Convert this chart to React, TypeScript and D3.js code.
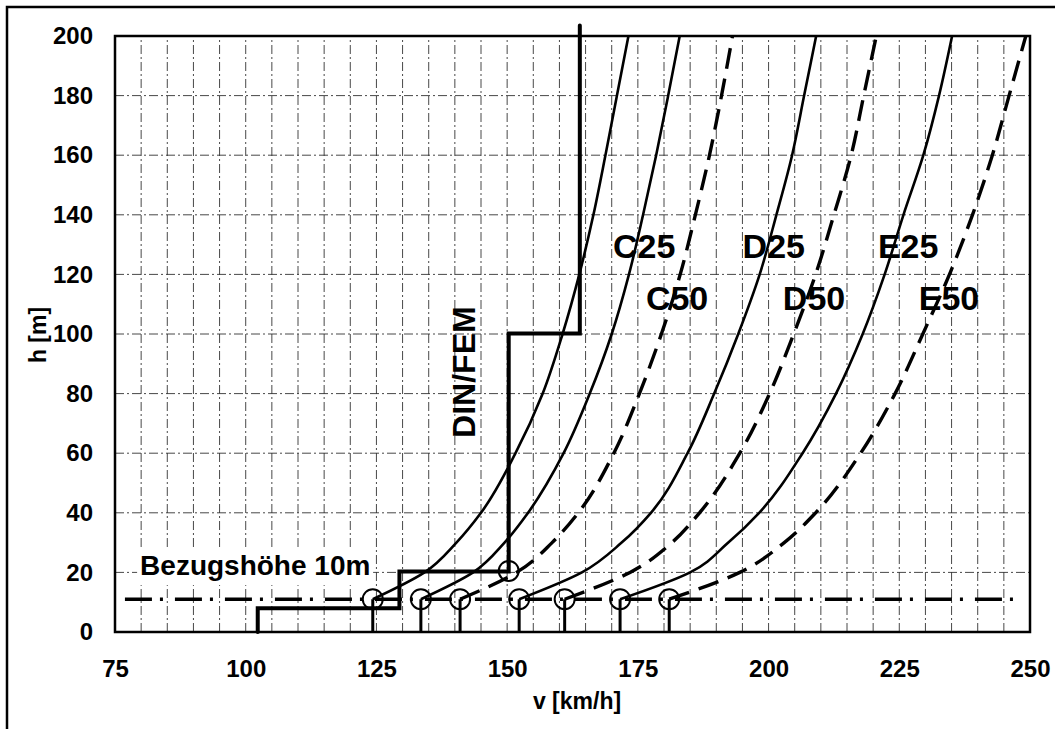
import React, { useEffect, useRef } from "react";
import * as d3 from "d3";

// heights [m] at which the wind speed profiles were read
const heights = [11, 20, 30, 40, 60, 80, 100, 120, 140, 160, 180, 200];

// v [km/h] of each profile at those heights
const profileRef = [124.3, 134.2, 140.3, 145, 151.6, 156.8, 160.6, 163.8, 166.5, 168.8, 171, 173.2];
const profileC25 = [133.5, 143.5, 149.5, 154, 160.8, 165.8, 170, 173.3, 176, 178.5, 180.8, 183];
const profileC50 = [141, 151.8, 158.6, 163.6, 170.4, 175.3, 179.5, 183.1, 186, 188.7, 191, 193.1];
const profileD25 = [152.3, 164.3, 171.9, 177.5, 184.5, 189.6, 194.2, 198.3, 201.5, 204.5, 206.8, 209.1];
const profileD50 = [161, 173.5, 181.5, 186.8, 194.5, 200.2, 204.8, 209, 212.5, 215.8, 218.2, 220.6];
const profileE25 = [171.6, 185, 192.3, 198.2, 206.5, 212.9, 218, 222.2, 225.8, 229.6, 232.6, 235.1];
const profileE50 = [181, 194.5, 203, 209, 217.6, 224.2, 229.5, 234.6, 239, 242.8, 246, 249.2];

const solidProfiles = [profileRef, profileC25, profileD25, profileE25];
const dashedProfiles = [profileC50, profileD50, profileE50];

// DIN/FEM step profile
const dinV = [102.3, 102.3, 129.4, 129.4, 150.3, 150.3, 163.9, 163.9];
const dinH = [0, 8, 8, 20.3, 20.3, 100.2, 100.2, 203.5];

// reference height marks
const refHeight = 11;
const refSpeeds = [124.3, 133.5, 141, 152.3, 161, 171.6, 181];
const dinMarkV = 150.3;
const dinMarkH = 20.5;
const refLineFrom = 76.9;
const refLineTo = 247.7;

// labels
const curveLabels = ["C25", "C50", "D25", "D50", "E25", "E50"];
const curveLabelV = [176.2, 182.5, 201, 208.7, 226.7, 234.5];
const curveLabelH = [125.5, 108, 125.5, 108, 125.5, 108];

const xTicks = [75, 100, 125, 150, 175, 200, 225, 250];
const yTicks = [0, 20, 40, 60, 80, 100, 120, 140, 160, 180, 200];

const FONT = "'Liberation Sans', Arial, sans-serif";

const App = () => {
  const svgRef = useRef(null);

  useEffect(() => {
    const svg = d3.select(svgRef.current);
    svg.selectAll("*").remove();

    const x = d3.scaleLinear().domain([75, 250]).range([115, 1030]);
    const y = d3.scaleLinear().domain([0, 200]).range([632, 36]);

    svg.append("rect").attr("width", 1055).attr("height", 729).attr("fill", "#fff");

    // outer frame (top and left only visible)
    svg
      .append("path")
      .attr("d", "M7,729 V7 H1055")
      .attr("fill", "none")
      .attr("stroke", "#000")
      .attr("stroke-width", 2.5);

    // grid
    const grid = svg.append("g").attr("stroke", "#333").attr("stroke-width", 0.9).attr("stroke-dasharray", "9,3,2,3");
    d3.range(80, 250, 5).forEach((v) => {
      grid.append("line").attr("x1", x(v)).attr("x2", x(v)).attr("y1", y(0)).attr("y2", y(200));
    });
    d3.range(20, 200, 20).forEach((h) => {
      grid.append("line").attr("x1", x(75)).attr("x2", x(250)).attr("y1", y(h)).attr("y2", y(h));
    });

    // axes
    const yAxis = svg
      .append("g")
      .attr("transform", `translate(${x(75)},0)`)
      .call(d3.axisLeft(y).tickValues(yTicks).tickSize(0).tickPadding(22));
    const xAxis = svg
      .append("g")
      .attr("transform", `translate(0,${y(0)})`)
      .call(d3.axisBottom(x).tickValues(xTicks).tickSize(0).tickPadding(28));
    [xAxis, yAxis].forEach((a) => {
      a.select(".domain").remove();
      a.selectAll("text")
        .attr("font-family", FONT)
        .attr("font-size", 24)
        .attr("font-weight", "bold")
        .attr("fill", "#000");
    });

    svg
      .append("text")
      .attr("x", 577)
      .attr("y", 709)
      .attr("text-anchor", "middle")
      .attr("font-family", FONT)
      .attr("font-size", 23)
      .attr("font-weight", "bold")
      .text("v [km/h]");
    svg
      .append("text")
      .attr("transform", "translate(46,335) rotate(-90)")
      .attr("text-anchor", "middle")
      .attr("font-family", FONT)
      .attr("font-size", 23)
      .attr("font-weight", "bold")
      .text("h [m]");

    // Bezugshöhe label with white box
    svg
      .append("rect")
      .attr("x", x(79.8) - 3)
      .attr("y", y(19.1) - 26)
      .attr("width", 236)
      .attr("height", 36)
      .attr("fill", "#fff");
    svg
      .append("text")
      .attr("x", x(79.8))
      .attr("y", y(19.1))
      .attr("font-family", FONT)
      .attr("font-size", 28)
      .attr("font-weight", "bold")
      .text("Bezugshöhe 10m");

    // curve labels
    curveLabels.forEach((name, i) => {
      svg
        .append("text")
        .attr("x", x(curveLabelV[i]))
        .attr("y", y(curveLabelH[i]))
        .attr("text-anchor", "middle")
        .attr("font-family", FONT)
        .attr("font-size", 34)
        .attr("font-weight", "bold")
        .text(name);
    });

    svg
      .append("text")
      .attr("transform", `translate(${x(143.8)},${y(87.2)}) rotate(-90)`)
      .attr("text-anchor", "middle")
      .attr("font-family", FONT)
      .attr("font-size", 32)
      .attr("font-weight", "bold")
      .text("DIN/FEM");

    // profiles
    const line = d3
      .line()
      .x((d) => x(d[0]))
      .y((d) => y(d[1]))
      .curve(d3.curveMonotoneY);

    solidProfiles.forEach((p) => {
      svg
        .append("path")
        .datum(p.map((v, i) => [v, heights[i]]))
        .attr("fill", "none")
        .attr("stroke", "#000")
        .attr("stroke-width", 2.6)
        .attr("d", line);
    });
    dashedProfiles.forEach((p) => {
      svg
        .append("path")
        .datum(p.map((v, i) => [v, heights[i]]))
        .attr("fill", "none")
        .attr("stroke", "#000")
        .attr("stroke-width", 3.4)
        .attr("stroke-dasharray", "21,10")
        .attr("d", line);
    });

    // DIN/FEM step
    svg
      .append("path")
      .datum(dinV.map((v, i) => [v, dinH[i]]))
      .attr("fill", "none")
      .attr("stroke", "#000")
      .attr("stroke-width", 4)
      .attr("stroke-linecap", "round")
      .attr("d", d3.line().x((d) => x(d[0])).y((d) => y(d[1])));

    // reference height line
    svg
      .append("line")
      .attr("x1", x(refLineFrom))
      .attr("x2", x(refLineTo))
      .attr("y1", y(refHeight))
      .attr("y2", y(refHeight))
      .attr("stroke", "#000")
      .attr("stroke-width", 3.5)
      .attr("stroke-dasharray", "27,8,3,12");

    // stems and circles
    refSpeeds.forEach((v) => {
      svg
        .append("line")
        .attr("x1", x(v))
        .attr("x2", x(v))
        .attr("y1", y(0))
        .attr("y2", y(refHeight))
        .attr("stroke", "#000")
        .attr("stroke-width", 3);
      svg
        .append("circle")
        .attr("cx", x(v))
        .attr("cy", y(refHeight))
        .attr("r", 10)
        .attr("fill", "none")
        .attr("stroke", "#000")
        .attr("stroke-width", 2);
    });
    svg
      .append("circle")
      .attr("cx", x(dinMarkV))
      .attr("cy", y(dinMarkH))
      .attr("r", 10)
      .attr("fill", "none")
      .attr("stroke", "#000")
      .attr("stroke-width", 2);

    // plot border
    svg
      .append("rect")
      .attr("x", x(75))
      .attr("y", y(200))
      .attr("width", x(250) - x(75))
      .attr("height", y(0) - y(200))
      .attr("fill", "none")
      .attr("stroke", "#000")
      .attr("stroke-width", 2.5);
  }, []);

  return (
    <svg
      ref={svgRef}
      width={1055}
      height={729}
      style={{ position: "absolute", left: 0, top: 0 }}
    ></svg>
  );
};

export default App;
